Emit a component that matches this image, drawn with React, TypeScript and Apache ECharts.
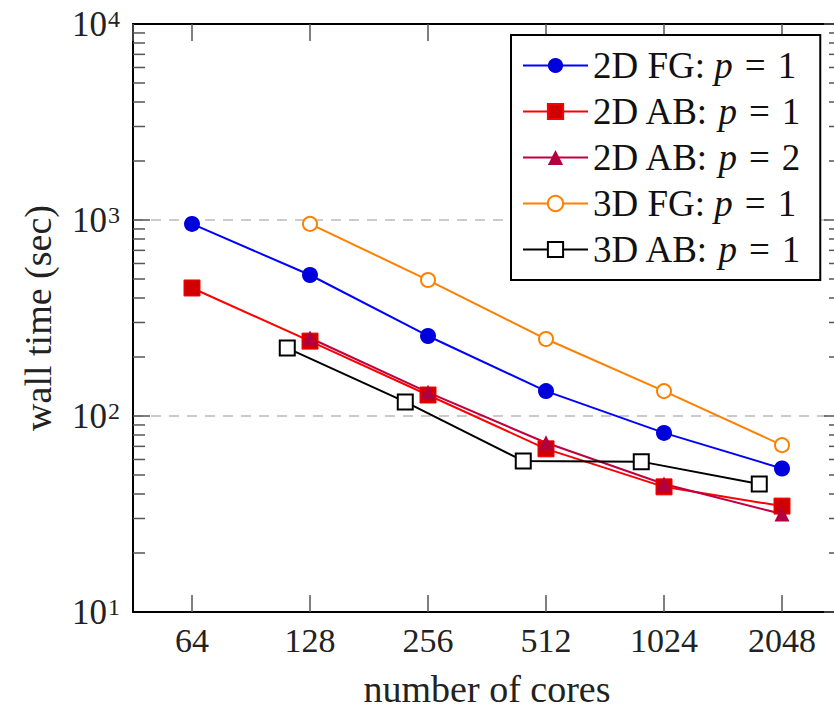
import React, { useEffect, useRef } from "react";
import * as echarts from "echarts";

// ---- data ----
const coresA = [64, 128, 256, 512, 1024, 2048];
const coresB = [128, 256, 512, 1024, 2048];
const cores3DAB = [112, 224, 448, 896, 1792];

const fg2dP1 = [955, 524, 256, 134, 82, 54];
const ab2dP1 = [450, 241, 128, 68, 43.5, 34.7];
const ab2dP2 = [250, 132, 73, 45, 31.6];
const fg3dP1 = [955, 494, 247, 134, 71];
const ab3dP1 = [222, 118, 59, 58.5, 45];

const seriesNames = [
  "2D FG: p = 1",
  "2D AB: p = 1",
  "2D AB: p = 2",
  "3D FG: p = 1",
  "3D AB: p = 1",
];

const minorTicksY = [
  20, 30, 40, 50, 60, 70, 80, 90,
  200, 300, 400, 500, 600, 700, 800, 900,
  2000, 3000, 4000, 5000, 6000, 7000, 8000, 9000,
];

const X_MIN = Math.pow(2, 5.5);
const X_MAX = Math.pow(2, 11.5);
const FONT = "'Liberation Serif', 'DejaVu Serif', serif";
const FS = 34;
const FS_TITLE = 38;
const FS_LEGEND = 37;

const zip = (xs: number[], ys: number[]) => xs.map((x, i) => [x, ys[i]]);

export default function App() {
  const ref = useRef<HTMLDivElement>(null);

  useEffect(() => {
    if (!ref.current) return;
    const chart = echarts.init(ref.current, null, { renderer: "svg" });

    const isPow2 = (v: number) => {
      const l = Math.log2(v);
      return Math.abs(l - Math.round(l)) < 1e-6;
    };

    const axisTick = {
      show: true,
      inside: true,
      length: 17,
      lineStyle: { color: "#555", width: 1.5 },
    };
    const axisLine = { show: true, lineStyle: { color: "#000", width: 2 } };

    const lineSeries = (
      name: string,
      data: number[][],
      lineColor: string,
      symbol: string,
      size: number,
      fill: string,
      border: string,
      borderWidth: number
    ) => ({
      name,
      type: "line",
      data,
      xAxisIndex: 0,
      yAxisIndex: 0,
      symbol,
      symbolSize: size,
      showSymbol: true,
      lineStyle: { color: lineColor, width: 2 },
      itemStyle: { color: fill, borderColor: border, borderWidth },
      emphasis: { disabled: true },
      z: 2,
    });

    const legendText = { fontFamily: FONT, fontSize: FS_LEGEND, color: "#111", lineHeight: 36 };

    chart.setOption({
      animation: false,
      grid: {
        left: 133,
        top: 24,
        width: 708,
        height: 588,
        containLabel: false,
        outerBoundsMode: "none",
      },
      legend: {
        data: seriesNames,
        orient: "vertical",
        left: 511,
        top: 35,
        backgroundColor: "#fff",
        borderColor: "#000",
        borderWidth: 2,
        padding: [12, 20, 12, 11],
        itemWidth: 65,
        itemHeight: 19,
        itemGap: 9,
        selectedMode: false,
        formatter: (name: string) => {
          const [pre, val] = name.split(": p = ");
          return `{t|${pre}: }{i|p}{e|=}{t|${val}}`;
        },
        textStyle: {
          ...legendText,
          rich: {
            t: { ...legendText },
            i: { ...legendText, fontStyle: "italic" },
            e: { ...legendText, padding: [0, 12, 0, 12] },
          },
        },
        z: 10,
      },
      xAxis: [
        {
          type: "log",
          logBase: 2,
          min: X_MIN,
          max: X_MAX,
          position: "bottom",
          axisLine,
          axisTick,
          splitLine: { show: false },
          axisLabel: {
            show: true,
            margin: 11,
            fontFamily: FONT,
            fontSize: FS,
            color: "#222",
            showMinLabel: false,
            showMaxLabel: false,
            formatter: (v: number) => (isPow2(v) ? String(Math.round(v)) : ""),
          },
          name: "number of cores",
          nameLocation: "middle",
          nameGap: 58,
          nameTextStyle: { fontFamily: FONT, fontSize: FS_TITLE, color: "#222" },
          z: 3,
        },
        {
          type: "log",
          logBase: 2,
          min: X_MIN,
          max: X_MAX,
          position: "top",
          axisLine,
          axisTick,
          splitLine: { show: false },
          axisLabel: { show: false },
          z: 3,
        },
      ],
      yAxis: [
        {
          type: "log",
          logBase: 10,
          min: 10,
          max: 10000,
          position: "left",
          axisLine,
          axisTick,
          splitLine: {
            show: true,
            lineStyle: { color: "#bbb", width: 1.5, type: [10, 8] },
          },
          axisLabel: {
            show: true,
            margin: 13,
            formatter: (v: number) => {
              const e = Math.round(Math.log10(v));
              return `{b|10}{s|${e}}`;
            },
            rich: {
              b: { fontFamily: FONT, fontSize: 35, color: "#222", lineHeight: 36 },
              s: {
                fontFamily: FONT,
                fontSize: 24,
                color: "#222",
                padding: [0, 0, 11, 1],
              },
            },
          },
          name: "wall time (sec)",
          nameLocation: "middle",
          nameGap: 76,
          nameTextStyle: { fontFamily: FONT, fontSize: FS_TITLE, color: "#222" },
          z: 1,
        },
        {
          type: "log",
          logBase: 10,
          min: 10,
          max: 10000,
          position: "right",
          axisLine,
          axisTick,
          splitLine: { show: false },
          axisLabel: { show: false },
          z: 3,
        },
      ],
      series: [
        {
          name: "minor-ticks",
          type: "custom",
          xAxisIndex: 0,
          yAxisIndex: 0,
          silent: true,
          clip: false,
          z: 3,
          data: minorTicksY.map((v) => [64, v]),
          renderItem: (params: any, api: any) => {
            const cs = params.coordSys;
            const y = api.coord([api.value(0), api.value(1)])[1];
            const st = { stroke: "#555", lineWidth: 1.5 };
            return {
              type: "group",
              children: [
                { type: "line", shape: { x1: cs.x, y1: y, x2: cs.x + 12, y2: y }, style: st },
                {
                  type: "line",
                  shape: { x1: cs.x + cs.width - 12, y1: y, x2: cs.x + cs.width, y2: y },
                  style: st,
                },
              ],
            };
          },
        },
        lineSeries(seriesNames[0], zip(coresA, fg2dP1), "#0000ff", "circle", 16, "#0000dd", "#0000dd", 0),
        lineSeries(seriesNames[1], zip(coresA, ab2dP1), "#ff0000", "rect", 16, "#d00000", "#ff0000", 1),
        lineSeries(seriesNames[2], zip(coresB, ab2dP2), "#bf0040", "triangle", 15, "#b00040", "#b00040", 0),
        lineSeries(seriesNames[3], zip(coresB, fg3dP1), "#ff8000", "circle", 14, "#ffffff", "#ff8000", 2),
        lineSeries(seriesNames[4], zip(cores3DAB, ab3dP1), "#000000", "rect", 15, "#ffffff", "#000000", 2),
      ],
    });

    return () => chart.dispose();
  }, []);

  return (
    <div
      style={{
        position: "fixed",
        left: 0,
        top: 0,
        width: 834,
        height: 712,
        overflow: "hidden",
        background: "#fff",
      }}
    >
      <div ref={ref} style={{ width: 860, height: 712 }} />
    </div>
  );
}
